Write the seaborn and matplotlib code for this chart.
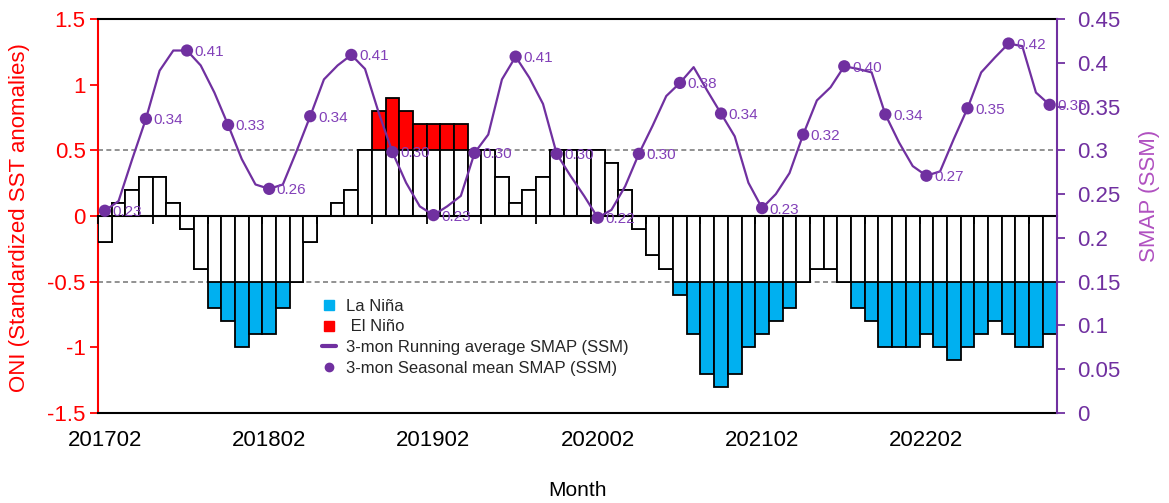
import numpy as np
import pandas as pd
import matplotlib
matplotlib.use("Agg")
import matplotlib.pyplot as plt
import seaborn as sns
from matplotlib.lines import Line2D

# ---------------- data ----------------
months = list(pd.period_range("2017-02", periods=70, freq="M").strftime("%Y%m"))

oni = [-0.2, 0.1, 0.2, 0.3, 0.3, 0.1, -0.1, -0.4, -0.7, -0.8,
       -1.0, -0.9, -0.9, -0.7, -0.5, -0.2, 0.0, 0.1, 0.2, 0.5,
       0.8, 0.9, 0.8, 0.7, 0.7, 0.7, 0.7, 0.5, 0.5, 0.3,
       0.1, 0.2, 0.3, 0.5, 0.5, 0.5, 0.5, 0.4, 0.2, -0.1,
       -0.3, -0.4, -0.6, -0.9, -1.2, -1.3, -1.2, -1.0, -0.9, -0.8,
       -0.7, -0.5, -0.4, -0.4, -0.5, -0.7, -0.8, -1.0, -1.0, -1.0,
       -0.9, -1.0, -1.1, -1.0, -0.9, -0.8, -0.9, -1.0, -1.0, -0.9]

smap_running = [0.231, 0.242, 0.290, 0.336, 0.391, 0.414, 0.414, 0.397, 0.366, 0.329,
                0.290, 0.261, 0.256, 0.261, 0.299, 0.339, 0.381, 0.397, 0.409, 0.393,
                0.343, 0.298, 0.263, 0.236, 0.226, 0.236, 0.248, 0.297, 0.318, 0.381,
                0.407, 0.383, 0.353, 0.296, 0.271, 0.248, 0.223, 0.232, 0.259, 0.296,
                0.328, 0.362, 0.377, 0.395, 0.368, 0.342, 0.316, 0.263, 0.234, 0.250,
                0.274, 0.318, 0.357, 0.372, 0.396, 0.393, 0.389, 0.341, 0.309, 0.282,
                0.271, 0.276, 0.313, 0.348, 0.389, 0.406, 0.422, 0.419, 0.366, 0.352]

seasonal_idx = list(range(0, 70, 3))
smap_seasonal = [0.231, 0.336, 0.414, 0.329, 0.256, 0.339, 0.409, 0.298,
                 0.226, 0.297, 0.407, 0.296, 0.223, 0.296, 0.377, 0.342,
                 0.234, 0.318, 0.396, 0.341, 0.271, 0.348, 0.422, 0.352]

left_ticks = [-1.5, -1.0, -0.5, 0.0, 0.5, 1.0, 1.5]
left_ticklabels = ["-1.5", "-1", "-0.5", "0", "0.5", "1", "1.5"]
right_ticks = [0, 0.05, 0.10, 0.15, 0.20, 0.25, 0.30, 0.35, 0.40, 0.45]
right_ticklabels = ["0", "0.05", "0.1", "0.15", "0.2", "0.25", "0.3", "0.35", "0.4", "0.45"]

# ---------------- style ----------------
sns.set_theme(style="white")
plt.rcParams["font.family"] = ["Liberation Sans", "DejaVu Sans"]

RED = "#FF0000"
BLUE = "#00B0F0"
PURPLE = "#7030A0"
LBL_PURPLE = "#8240B8"
AX_LBL = "#B050C0"

df = pd.DataFrame({"month": months, "oni": oni})
df["phase"] = np.where(df["oni"] > 0.5, "El Niño",
                       np.where(df["oni"] < -0.5, "La Niña", "Neutral"))
df["neutral"] = df["oni"].clip(-0.5, 0.5)
pal = {"El Niño": RED, "La Niña": BLUE, "Neutral": "white"}

fig = plt.figure(figsize=(11.69, 5.03), dpi=100)
ax = fig.add_axes([98 / 1169, 90 / 503, 958.5 / 1169, 394 / 503])

ax.axhline(0.5, color="#7f7f7f", ls=(0, (3, 2)), lw=1.2, zorder=1)
ax.axhline(-0.5, color="#7f7f7f", ls=(0, (3, 2)), lw=1.2, zorder=1)

sns.barplot(data=df, x="month", y="oni", hue="phase", palette=pal, dodge=False,
            width=1.0, edgecolor="black", linewidth=1.3, saturation=1,
            errorbar=None, legend=False, ax=ax, zorder=2)
sns.barplot(data=df, x="month", y="neutral", color="white", width=1.0,
            edgecolor="black", linewidth=1.3, saturation=1, errorbar=None,
            ax=ax, zorder=3)

ax.set_xlim(-0.5, 69.5)
ax.set_ylim(-1.5, 1.5)
ax.set_xlabel("")
ax.set_ylabel("")

# x labels at bottom
ax.set_xticks(range(0, 70, 12))
ax.set_xticklabels(months[::12], fontsize=16, color="black")
ax.tick_params(axis="x", length=0, pad=12)

# zero line with ticks
sec = ax.secondary_xaxis(0.5)
sec.set_xticks(np.arange(-0.5, 70, 4))
sec.tick_params(axis="x", direction="in", length=6, width=1.3, color="black",
                labeltop=False, labelbottom=False)
for s in sec.spines.values():
    s.set_linewidth(1.5)
    s.set_color("black")
sec.set_zorder(5)

ax.set_yticks(left_ticks)
ax.set_yticklabels(left_ticklabels, fontsize=16)
ax.tick_params(axis="y", colors=RED, length=6, width=1.3, direction="out",
               pad=3, left=True)
ax.spines["left"].set_color(RED)
ax.spines["left"].set_linewidth(1.5)
ax.spines["top"].set_color("black")
ax.spines["top"].set_linewidth(1.5)
ax.spines["bottom"].set_color("black")
ax.spines["bottom"].set_linewidth(1.5)
ax.spines["right"].set_visible(False)

# ---------------- SMAP line ----------------
ax2 = ax.twinx()
sns.lineplot(x=np.arange(len(smap_running)), y=smap_running, ax=ax2,
             color=PURPLE, lw=1.6, zorder=3)
sns.scatterplot(x=seasonal_idx, y=smap_seasonal, ax=ax2, color=PURPLE,
                s=78, edgecolor="none", zorder=4, legend=False)
for xi, yi in zip(seasonal_idx, smap_seasonal):
    ax2.annotate(f"{yi:.2f}", (xi, yi), xytext=(5.5, -1),
                 textcoords="offset points", ha="left", va="center",
                 fontsize=11, color=LBL_PURPLE, zorder=5)

ax2.set_ylim(0, 0.45)
ax2.set_xlim(-0.5, 69.5)
ax2.set_yticks(right_ticks)
ax2.set_yticklabels(right_ticklabels, fontsize=16)
ax2.tick_params(axis="y", colors=PURPLE, length=6, width=1.3, direction="out",
                pad=9, right=True)
for side in ["left", "top", "bottom"]:
    ax2.spines[side].set_visible(False)
ax2.spines["right"].set_color(PURPLE)
ax2.spines["right"].set_linewidth(1.5)
ax2.set_ylabel("")
ax2.set_xlabel("")

# ---------------- legend ----------------
handles = [
    Line2D([], [], marker="s", ls="none", color=BLUE, markersize=7),
    Line2D([], [], marker="s", ls="none", color=RED, markersize=7),
    Line2D([], [], color=PURPLE, lw=3),
    Line2D([], [], marker="o", ls="none", color=PURPLE, markersize=6),
]
labels = ["La Niña", " El Niño", "3-mon Running average SMAP (SSM)",
          "3-mon Seasonal mean SMAP (SSM)"]
ax2.legend(handles, labels, loc="upper left", bbox_to_anchor=(0.234, 0.29),
           frameon=False, fontsize=12, handlelength=0.8, handletextpad=0.6,
           labelspacing=0.34, borderaxespad=0, borderpad=0)

# ---------------- axis titles ----------------
fig.text(20 / 1169, 1 - 218 / 503, "ONI (Standardized SST anomalies)",
         rotation=90, ha="center", va="center", fontsize=16, color=RED)
fig.text(1150 / 1169, 1 - 196 / 503, "SMAP (SSM)", rotation=90,
         ha="center", va="center", fontsize=16, color=AX_LBL)
fig.text(578 / 1169, 1 - 490 / 503, "Month", ha="center", va="center",
         fontsize=15, color="black")

fig.savefig("out.png", dpi=100)
